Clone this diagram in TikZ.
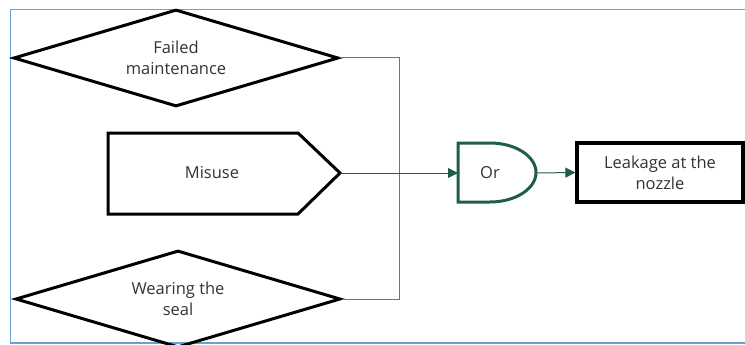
\documentclass[tikz,border=0pt]{standalone}
\usepackage{fontspec}
\setmainfont{Open Sans}
\usetikzlibrary{shapes.geometric,arrows.meta}
\definecolor{framebl}{HTML}{6A9FD8}
\definecolor{linkgr}{HTML}{5E7E74}
\definecolor{gategr}{HTML}{1F5E46}
\definecolor{txtgr}{HTML}{333333}
\tikzset{
  evt/.style={draw=black, line width=3pt, line join=miter},
  diam/.style={evt, diamond, inner sep=0pt, minimum width=325pt, minimum height=97pt},
  lbl/.style={font=\fontsize{16.5}{21}\selectfont, text=txtgr, align=center},
  link/.style={draw=linkgr, line width=1pt},
  arr/.style={link, -{Triangle[length=10pt,width=10pt]}, color=gategr},
}
\begin{document}
\begin{tikzpicture}[x=1pt,y=-1pt]
\useasboundingbox (0,0) rectangle (745,345);
% frame
\draw[framebl, line width=1.5pt] (750,9.5) -- (10.5,9.5) -- (10.5,343) -- (750,343);
% top diamond
\node[diam] (fm) at (176,58) {};
\node[lbl] (fmt) at (176,58) {Failed\\maintenance};
% bottom diamond
\node[diam] (ws) at (178,299) {};
\node[lbl] (wst) at (178,299) {Wearing the\\seal};
% misuse pentagon
\coordinate (mt) at (340,173);
\draw[evt] (108,133) -- (298,133) -- (mt) -- (298,214) -- (108,214) -- cycle;
\node[lbl] (mis) at (212,173) {Misuse};
% gate
\coordinate (gl) at (458,173);
\coordinate (gr) at (536,173);
\draw[draw=gategr, line width=3pt, line join=miter] (458,143) -- (490,143) arc[start angle=-90, end angle=90, x radius=46, y radius=29.5] -- (458,202) -- cycle;
\node[lbl] (orl) at (490,173) {Or};
% top event box
\node[draw=black, line width=3.2pt, minimum width=166pt, minimum height=59pt, inner sep=0pt, lbl] (leak) at (660,172.5) {Leakage at the\\nozzle};
% connectors
\coordinate (bus) at (399.5,173);
\draw[link] (fm.east) -| (bus);
\draw[link] (ws.east) -| (bus);
\draw[arr] (mt) -- (gl);
\draw[arr] (gr) -- (leak.west);
\end{tikzpicture}
\end{document}
